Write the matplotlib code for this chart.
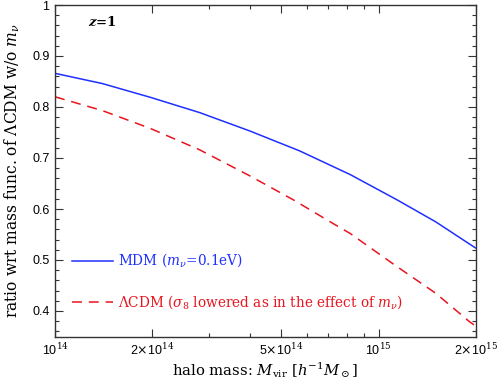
import matplotlib
matplotlib.use("Agg")
import matplotlib.pyplot as plt
from matplotlib.ticker import FixedLocator, NullFormatter, MultipleLocator

plt.rcParams['mathtext.fontset'] = 'dejavuserif'

# data: halo mass [h^-1 Msun], ratio
mass_mdm = [1.0e14, 1.4e14, 1.97e14, 2.8e14, 4.0e14, 5.7e14, 8.2e14, 1.14e15, 1.5e15, 2.0e15]
ratio_mdm = [0.866, 0.846, 0.819, 0.789, 0.753, 0.714, 0.667, 0.618, 0.575, 0.523]

mass_lcdm = [1.0e14, 1.4e14, 1.97e14, 2.8e14, 4.0e14, 5.45e14, 7.08e14, 8.17e14, 1.14e15, 1.5e15, 1.91e15, 2.0e15]
ratio_lcdm = [0.820, 0.793, 0.758, 0.716, 0.665, 0.618, 0.575, 0.552, 0.487, 0.435, 0.379, 0.370]

xticks = [1e14, 2e14, 5e14, 1e15, 2e15]
xticklabels = [r'10$^{14}$', r'2$\times$10$^{14}$', r'5$\times$10$^{14}$', r'10$^{15}$', r'2$\times$10$^{15}$']
yticks = [0.4, 0.5, 0.6, 0.7, 0.8, 0.9, 1.0]
yticklabels = ['0.4', '0.5', '0.6', '0.7', '0.8', '0.9', '1']

blue = '#1f2fff'
red = '#e8141e'

fig = plt.figure(figsize=(4.98, 3.80), dpi=100)
ax = fig.add_axes([55/498, 43.5/380, 421/498, 331.5/380])

ax.plot(mass_mdm, ratio_mdm, color=blue, lw=1.1, solid_capstyle='butt')
ax.plot(mass_lcdm, ratio_lcdm, color=red, lw=1.1, dashes=(6.5, 4.5))

ax.set_xscale('log')
ax.set_xlim(1e14, 2e15)
ax.set_ylim(0.35, 1.0)

ax.xaxis.set_major_locator(FixedLocator(xticks))
ax.set_xticklabels(xticklabels)
ax.xaxis.set_minor_locator(FixedLocator([3e14, 4e14, 6e14, 7e14, 8e14, 9e14]))
ax.xaxis.set_minor_formatter(NullFormatter())
ax.yaxis.set_major_locator(FixedLocator(yticks))
ax.set_yticklabels(yticklabels)
ax.yaxis.set_minor_locator(MultipleLocator(0.02))

ax.tick_params(which='both', direction='in', top=True, right=True, labelsize=9, width=0.8, color='#333333')
ax.tick_params(which='major', length=5.5, pad=4)
ax.tick_params(which='minor', length=3)
for lab in ax.get_xticklabels() + ax.get_yticklabels():
    lab.set_family('Liberation Sans')
for s in ax.spines.values():
    s.set_linewidth(1.0)
    s.set_color('#333333')

ax.set_ylabel(r'ratio wrt mass func. of $\Lambda$CDM w/o $m_\nu$',
              family='DejaVu Serif', fontsize=11.2, va='center')
ax.yaxis.set_label_coords(-0.102, 0.5)
ax.set_xlabel(r'halo mass: $M_{\rm vir}$ [$h^{-1}M_\odot$]',
              family='DejaVu Serif', fontsize=10.7, va='center')
ax.xaxis.set_label_coords(0.5, -0.101)

ax.text(0.078, 0.948, r'$\boldsymbol{z}$=1', transform=ax.transAxes,
        family='DejaVu Serif', fontsize=9.5, fontweight='bold', va='center', ha='left')

# legend drawn manually in axes fraction
ax.plot([0.04, 0.138], [0.229, 0.229], color=blue, lw=1.1, transform=ax.transAxes)
ax.text(0.150, 0.229, r'MDM ($m_\nu$=0.1eV)', color=blue, transform=ax.transAxes,
        family='DejaVu Serif', fontsize=9.8, va='center')
ax.plot([0.04, 0.138], [0.105, 0.105], color=red, lw=1.1, dashes=(6.5, 4.5),
        transform=ax.transAxes)
ax.text(0.150, 0.105, r'$\Lambda$CDM ($\sigma_8$ lowered as in the effect of $m_\nu$)', color=red,
        transform=ax.transAxes, family='DejaVu Serif', fontsize=9.8, va='center')

fig.savefig('out.png', dpi=100)
